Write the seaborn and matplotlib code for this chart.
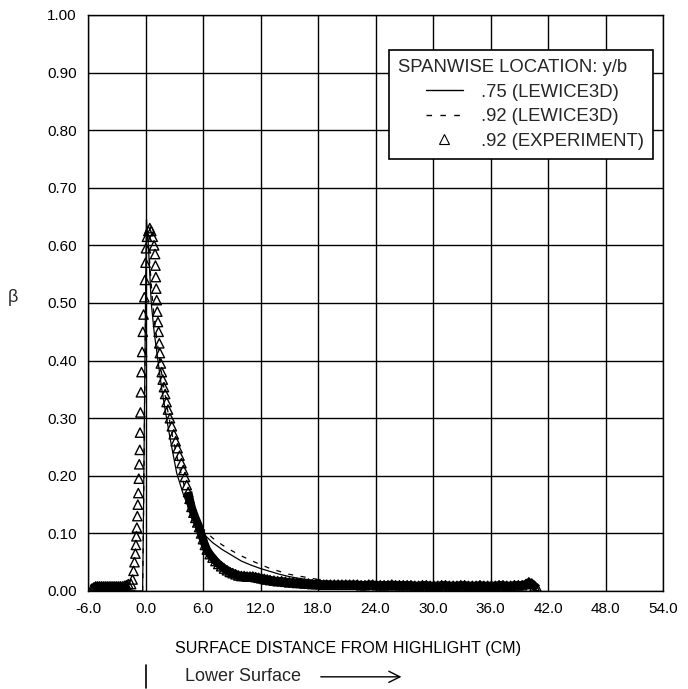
import numpy as np
import pandas as pd
import matplotlib
matplotlib.use('Agg')
import matplotlib.pyplot as plt
import matplotlib.transforms as mtransforms
from matplotlib.lines import Line2D
from matplotlib.legend_handler import HandlerLine2D
import seaborn as sns

# LEWICE3D, y/b = .75 (solid line)
lew75_x = [-5.5, -1.0, -0.3, -0.2, -0.1, 0.0, 0.1, 0.3, 0.6, 0.9, 1.3, 1.7, 2.2, 2.6, 3.25,
           4.0, 4.64, 5.3, 6.0, 7.0, 8.0, 9.0, 10.0, 11.0, 12.0, 13.0, 14.0, 15.0, 16.0,
           18.0, 20.0, 25.0, 30.0, 35.0, 40.0, 41.0]
lew75_y = [0.0, 0.0, 0.0, 0.15, 0.33, 0.5, 0.645, 0.6, 0.5, 0.45, 0.4, 0.35, 0.3, 0.262, 0.205,
           0.165, 0.14, 0.118, 0.1, 0.084, 0.072, 0.062, 0.052, 0.045, 0.039, 0.034, 0.029, 0.025, 0.022,
           0.017, 0.013, 0.009, 0.008, 0.007, 0.006, 0.0]

# LEWICE3D, y/b = .92 (dashed line)
lew92_x = [-5.5, -1.0, -0.3, -0.2, -0.1, 0.0, 0.1, 0.2, 0.4, 0.7, 1.0, 1.4, 1.8, 2.3, 2.8, 3.4,
           4.0, 4.7, 5.4, 6.0, 7.0, 8.0, 9.0, 10.0, 11.0, 12.0, 13.0, 14.0, 15.0, 16.0, 18.0,
           20.0, 25.0, 30.0, 35.0, 40.0, 41.0]
lew92_y = [0.0, 0.0, 0.0, 0.14, 0.31, 0.47, 0.59, 0.625, 0.58, 0.51, 0.46, 0.41, 0.365, 0.315, 0.27, 0.225,
           0.185, 0.15, 0.125, 0.108, 0.092, 0.08, 0.07, 0.061, 0.053, 0.046, 0.039, 0.034, 0.029, 0.026, 0.02,
           0.015, 0.01, 0.008, 0.007, 0.006, 0.0]

# experiment, y/b = .92 (triangles)
exp_x = [-5.6, -5.4, -5.2, -5.0, -4.8, -4.6, -4.4, -4.2, -4.0, -3.8, -3.6, -3.4, -3.2, -3.0, -2.8,
         -2.6, -2.4, -2.2, -2.0, -1.8,
         -1.5, -1.35, -1.25, -1.15, -1.05, -1.0, -0.95, -0.9, -0.85, -0.8, -0.75, -0.7, -0.65, -0.6,
         -0.57, -0.53, -0.48, -0.42, -0.35, -0.28, -0.2, -0.12, -0.06, 0.0, 0.05, 0.15, 0.3, 0.45,
         0.6, 0.75, 0.9,
         1.0, 1.04, 1.08, 1.12, 1.17, 1.23, 1.3, 1.37, 1.44, 1.5, 1.6, 1.7, 1.8, 1.93, 2.05, 2.2,
         2.35, 2.55, 2.75, 2.95, 3.15, 3.35, 3.55, 3.75, 3.95, 4.12, 4.3, 4.45, 4.6, 4.8, 5.0, 5.2,
         5.4, 5.6, 5.8, 6.0, 6.2, 6.4, 6.7, 7.0, 7.3, 7.6, 7.9, 8.2, 8.5, 8.8, 9.1, 9.4, 9.7, 10.0,
         10.3, 10.6, 10.9, 11.2, 11.5, 11.8, 12.1, 12.4, 12.7, 13.0, 13.4, 13.8, 14.2, 14.6, 15.0,
         15.4, 15.8, 16.2, 16.6, 17.0, 17.4, 17.8, 18.2, 18.6,
         18.9, 19.3, 19.7, 20.1, 20.5, 20.9, 21.3, 21.7, 22.1, 22.5, 22.9, 23.3, 23.7, 24.1, 24.5,
         24.9, 25.3, 25.7, 26.1, 26.5, 26.9, 27.3, 27.7, 28.1, 28.5, 28.9, 29.3, 29.7, 30.1, 30.5,
         30.9, 31.3, 31.7, 32.1, 32.5, 32.9, 33.3, 33.7, 34.1, 34.5, 34.9, 35.3, 35.7, 36.1, 36.5,
         36.9, 37.3, 37.7, 38.1, 38.5, 38.9, 39.3, 39.7, 40.0, 40.3, 40.6, 40.9]
exp_y = [0.004, 0.006, 0.008, 0.008, 0.008, 0.008, 0.008, 0.008, 0.008, 0.008, 0.008, 0.008, 0.008, 0.008, 0.008,
         0.008, 0.008, 0.009, 0.010, 0.012,
         0.012, 0.02, 0.035, 0.05, 0.065, 0.08, 0.095, 0.11, 0.13, 0.15, 0.17, 0.195, 0.22, 0.245,
         0.275, 0.31, 0.345, 0.38, 0.415, 0.45, 0.48, 0.51, 0.54, 0.57, 0.595, 0.615, 0.625, 0.63,
         0.625, 0.615, 0.6,
         0.585, 0.565, 0.545, 0.525, 0.505, 0.485, 0.467, 0.45, 0.43, 0.413, 0.395, 0.38, 0.367, 0.354, 0.342, 0.328,
         0.315, 0.3, 0.286, 0.272, 0.26, 0.248, 0.235, 0.222, 0.21, 0.198, 0.184, 0.172, 0.16, 0.146, 0.136, 0.127,
         0.119, 0.111, 0.1, 0.09, 0.08, 0.072, 0.064, 0.058, 0.052, 0.047, 0.043, 0.039, 0.036, 0.033, 0.031, 0.029, 0.027, 0.026,
         0.026, 0.025, 0.025, 0.025, 0.024, 0.023, 0.022, 0.021, 0.02, 0.019, 0.018, 0.017, 0.017, 0.016, 0.015,
         0.015, 0.014, 0.014, 0.013, 0.013, 0.012, 0.012, 0.012, 0.011,
         0.011, 0.011, 0.011, 0.011, 0.011, 0.011, 0.011, 0.011, 0.011, 0.010, 0.010, 0.011, 0.011, 0.010, 0.010,
         0.010, 0.010, 0.011, 0.010, 0.010, 0.010, 0.010, 0.010, 0.009, 0.009, 0.010, 0.010, 0.009, 0.009, 0.009,
         0.010, 0.010, 0.009, 0.009, 0.009, 0.010, 0.010, 0.009, 0.009, 0.009, 0.010, 0.009, 0.009, 0.009, 0.009,
         0.010, 0.010, 0.009, 0.009, 0.010, 0.010, 0.010, 0.012, 0.015, 0.013, 0.008, 0.004]

x_ticks = [-6.0, 0.0, 6.0, 12.0, 18.0, 24.0, 30.0, 36.0, 42.0, 48.0, 54.0]
y_ticks = [0.0, 0.1, 0.2, 0.3, 0.4, 0.5, 0.6, 0.7, 0.8, 0.9, 1.0]

legend_title = 'SPANWISE LOCATION: y/b'
legend_labels = ['.75 (LEWICE3D)', '.92 (LEWICE3D)', '.92 (EXPERIMENT)']


def main():
    sns.set_theme(style='white')
    plt.rcParams['font.family'] = ['Liberation Sans', 'DejaVu Sans']

    df_75 = pd.DataFrame({'x': lew75_x, 'y': lew75_y})
    df_92 = pd.DataFrame({'x': lew92_x, 'y': lew92_y})
    df_exp = pd.DataFrame({'x': exp_x, 'y': exp_y})

    fig = plt.figure(figsize=(6.88, 6.89), dpi=100)
    ax = fig.add_axes([88 / 688, 98 / 689, 575 / 688, 576 / 689])

    # where the measured points sit close together the triangles merge into a black band
    dense_left = df_exp[df_exp['x'] <= -1.8]
    dense_right = df_exp[df_exp['x'] >= 4.45]
    for part in (dense_left, dense_right):
        sns.lineplot(data=part, x='x', y='y', sort=False, estimator=None, color='black',
                     lw=6, solid_capstyle='butt', ax=ax, zorder=3)
    sns.scatterplot(data=df_exp, x='x', y='y', marker='^', s=45, facecolors='none',
                    edgecolors='black', linewidths=1.0, ax=ax, zorder=3)
    sns.lineplot(data=df_75, x='x', y='y', sort=False, estimator=None, color='black',
                 lw=0.9, ax=ax, zorder=4)
    sns.lineplot(data=df_92, x='x', y='y', sort=False, estimator=None, color='black',
                 lw=0.9, ls=(0, (4, 6)), ax=ax, zorder=4)

    ax.set_xlim(x_ticks[0], x_ticks[-1])
    ax.set_ylim(y_ticks[0], y_ticks[-1])
    ax.set_xticks(x_ticks)
    ax.set_yticks(y_ticks)
    ax.set_xticklabels(['%.1f' % v for v in x_ticks])
    ax.set_yticklabels(['%.2f' % v for v in y_ticks])
    ax.tick_params(length=0, pad=8, labelsize=11, colors='black')
    ax.grid(True, color='black', lw=1.0)
    ax.set_axisbelow(True)
    for sp in ax.spines.values():
        sp.set_color('black')
        sp.set_linewidth(1.0)

    ax.set_xlabel('SURFACE DISTANCE FROM HIGHLIGHT (CM)', fontsize=11.6, color='black',
                  ha='left', va='center')
    ax.xaxis.set_label_coords(0.151, -0.099)
    ax.set_ylabel('')
    fig.text(13 / 688, 1 - 298 / 689, 'β', fontsize=13, ha='center', va='center')

    # lower surface marker below the axis
    trans = mtransforms.blended_transform_factory(ax.transData, ax.transAxes)
    ax.plot([0.0, 0.0], [-0.128, -0.168], color='black', lw=1.2, transform=trans, clip_on=False)
    ax.text(0.169, -0.149, 'Lower Surface', transform=ax.transAxes, fontsize=13,
            ha='left', va='center')
    ax.annotate('', xy=(0.55, -0.149), xytext=(0.40, -0.149), xycoords='axes fraction',
                arrowprops=dict(arrowstyle='->', lw=1.0, color='black', mutation_scale=20))

    handles = [Line2D([], [], color='black', lw=1.0),
               Line2D([], [], color='black', lw=1.0, ls=(0, (4, 6))),
               Line2D([], [], color='black', lw=0, marker='^', markersize=6.5,
                      markerfacecolor='none', markeredgewidth=0.8)]
    leg = ax.legend(handles, legend_labels, title=legend_title, alignment='left',
                    loc='upper right', bbox_to_anchor=(0.983, 0.939), borderaxespad=0,
                    fontsize=13.3, title_fontsize=13.3, frameon=True, fancybox=False,
                    framealpha=1, edgecolor='black', handlelength=3.5, handletextpad=0.98,
                    borderpad=0.5, labelspacing=0.4,
                    handler_map={Line2D: HandlerLine2D(xpad=1.5)})
    leg.get_frame().set_linewidth(1.2)

    fig.savefig('out.png', dpi=100)


if __name__ == '__main__':
    main()
